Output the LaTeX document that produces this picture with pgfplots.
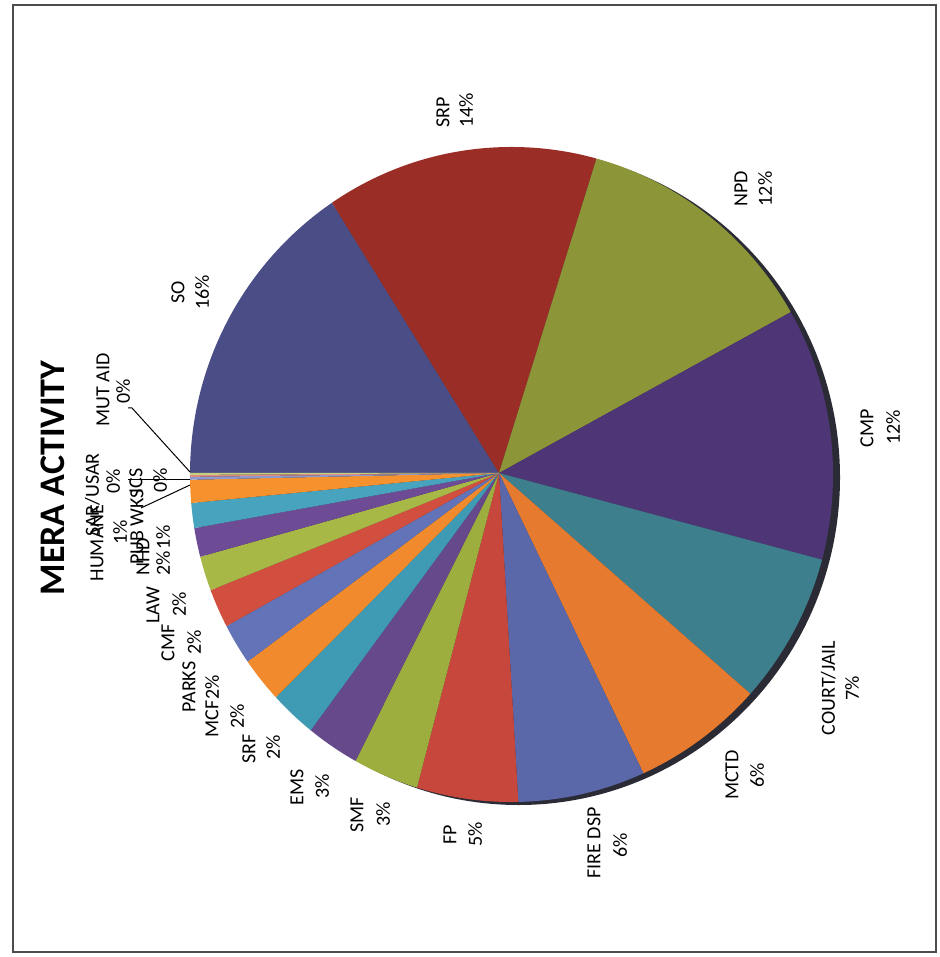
\documentclass[border=0pt]{standalone}
\usepackage{pgfplots}
\usepackage{pgfplotstable}
\usepackage{fontspec}
\setmainfont{Carlito}
\pgfplotsset{compat=1.18}

% slice colours, as they come out on the scan
\definecolor{c1}{HTML}{4B4E86}
\definecolor{c2}{HTML}{9A2E26}
\definecolor{c3}{HTML}{8C9638}
\definecolor{c4}{HTML}{4E3575}
\definecolor{c5}{HTML}{3E7F8E}
\definecolor{c6}{HTML}{E67A2E}
\definecolor{c7}{HTML}{5A67A8}
\definecolor{c8}{HTML}{C8473C}
\definecolor{c9}{HTML}{9DAD3E}
\definecolor{c10}{HTML}{66498A}
\definecolor{c11}{HTML}{3F9BB3}
\definecolor{c12}{HTML}{F08A2C}
\definecolor{c13}{HTML}{6273B8}
\definecolor{c14}{HTML}{D24E3E}
\definecolor{c15}{HTML}{A8B846}
\definecolor{c16}{HTML}{6E4C95}
\definecolor{c17}{HTML}{48A3BE}
\definecolor{c18}{HTML}{F5922E}
\definecolor{c19}{HTML}{8C9AD0}
\definecolor{c20}{HTML}{E08A84}
\definecolor{c21}{HTML}{C4D080}
\definecolor{pieshadow}{HTML}{2B2B35}

\tikzset{lbl/.style={rotate=90, inner sep=0pt, text depth=0pt,
    font=\fontsize{10bp}{12bp}\selectfont}}

% share of activity, in percent, clockwise from SO
\pgfplotstableread{
name     value  col
SO       16.2   c1
SRP      13.6   c2
NPD      12.2   c3
CMP      12.2   c4
COURT    7.3    c5
MCTD     6.4    c6
FIREDSP  6.2    c7
FP       5.0    c8
SMF      3.3    c9
EMS      2.7    c10
SRF      2.4    c11
MCF      2.3    c12
PARKS    2.1    c13
CMF      2.0    c14
LAW      1.8    c15
NHD      1.5    c16
PUBWKS   1.3    c17
HUMANE   1.2    c18
SARUSAR  0.15   c19
ICS      0.1    c20
MUTAID   0.1    c21
}\piedata

\begin{document}
\begin{tikzpicture}
\begin{axis}[
    x=0.5bp, y=0.5bp,
    xmin=0, xmax=940, ymin=0, ymax=957,
    hide axis, clip=false,
]
% keep the whole page in the bounding box
\path (axis cs:0,0) rectangle (axis cs:940,957);

\pgfplotsextra{
    \pgfplotstablegetrowsof{\piedata}
    \pgfmathtruncatemacro\lastrow{\pgfplotsretval-1}
    \gdef\pietotal{0}
    \foreach \i in {0,...,\lastrow}{
        \pgfplotstablegetelem{\i}{value}\of\piedata
        \pgfmathsetmacro\tmp{\pietotal+\pgfplotsretval}
        \xdef\pietotal{\tmp}
    }
    % side of the 3d pie
    \fill[pieshadow] (axis cs:518.5,479.5) ellipse [x radius=160.75bp, y radius=163.75bp];
    \begin{scope}
        \clip (axis cs:511.5,482.5) ellipse [x radius=160.75bp, y radius=163.75bp];
        \gdef\angstart{180}
        \foreach \i in {0,...,\lastrow}{
            \pgfplotstablegetelem{\i}{value}\of\piedata \let\pv\pgfplotsretval
            \pgfplotstablegetelem{\i}{col}\of\piedata \let\pc\pgfplotsretval
            \pgfmathsetmacro\angend{\angstart-360*\pv/\pietotal}
            \fill[fill=\pc] (axis cs:499,484) -- ++(\angstart:200bp)
                arc[start angle=\angstart, end angle=\angend, radius=200bp] -- cycle;
            \xdef\angstart{\angend}
        }
    \end{scope}
}

% frame of the chart area
\draw[black!70, line width=0.8bp] (axis cs:13,952) rectangle (axis cs:936,5);

% title
\node[rotate=90, inner sep=0pt, text depth=0pt, font=\fontsize{18bp}{20bp}\selectfont\bfseries]
    at (axis cs:53,479) {MERA ACTIVITY};

% leader lines
\draw[black, line width=0.5bp] (axis cs:128,549) -- (axis cs:132,549) -- (axis cs:190,485);
\draw[black, line width=0.5bp] (axis cs:128,477) -- (axis cs:190,477);
\draw[black, line width=0.5bp] (axis cs:141,449) -- (axis cs:190,472);

% data labels
\node[lbl] at (axis cs:178,665) {SO};       \node[lbl] at (axis cs:202,665) {16\%};
\node[lbl] at (axis cs:443,845) {SRP};      \node[lbl] at (axis cs:466,847) {14\%};
\node[lbl] at (axis cs:741,768) {NPD};      \node[lbl] at (axis cs:765,768) {12\%};
\node[lbl] at (axis cs:867,529) {CMP};      \node[lbl] at (axis cs:893,530) {12\%};
\node[lbl] at (axis cs:828,269) {COURT/JAIL}; \node[lbl] at (axis cs:852,269) {7\%};
\node[lbl] at (axis cs:732,182) {MCTD};     \node[lbl] at (axis cs:757,182) {6\%};
\node[lbl] at (axis cs:594,114) {FIRE DSP}; \node[lbl] at (axis cs:620,112) {6\%};
\node[lbl] at (axis cs:450,122) {FP};       \node[lbl] at (axis cs:475,123) {5\%};
\node[lbl] at (axis cs:357,142) {SMF};      \node[lbl] at (axis cs:383,143) {3\%};
\node[lbl] at (axis cs:297,170) {EMS};      \node[lbl] at (axis cs:322,171) {3\%};
\node[lbl] at (axis cs:249,208) {SRF};      \node[lbl] at (axis cs:273,210) {2\%};
\node[lbl] at (axis cs:212,238) {MCF};      \node[lbl] at (axis cs:237,241) {2\%};
\node[lbl] at (axis cs:189,270) {PARKS};    \node[lbl] at (axis cs:212,270) {2\%};
\node[lbl] at (axis cs:168,314) {CMF};      \node[lbl] at (axis cs:194,315) {2\%};
\node[lbl] at (axis cs:153,352) {LAW};      \node[lbl] at (axis cs:179,353) {2\%};
\node[lbl] at (axis cs:143,400) {NHD};      \node[lbl] at (axis cs:163,394) {2\%};
\node[lbl] at (axis cs:137,430) {PUB WKS};  \node[lbl] at (axis cs:163,420) {1\%};
\node[lbl] at (axis cs:97,414) {HUMANE};    \node[lbl] at (axis cs:120,425) {1\%};
\node[lbl] at (axis cs:92,462) {SAR/USAR};  \node[lbl] at (axis cs:113,476) {0\%};
\node[lbl] at (axis cs:136,476) {ICS};      \node[lbl] at (axis cs:160,477) {0\%};
\node[lbl] at (axis cs:103,567) {MUT AID};  \node[lbl] at (axis cs:123,566) {0\%};
\end{axis}
\end{tikzpicture}
\end{document}
